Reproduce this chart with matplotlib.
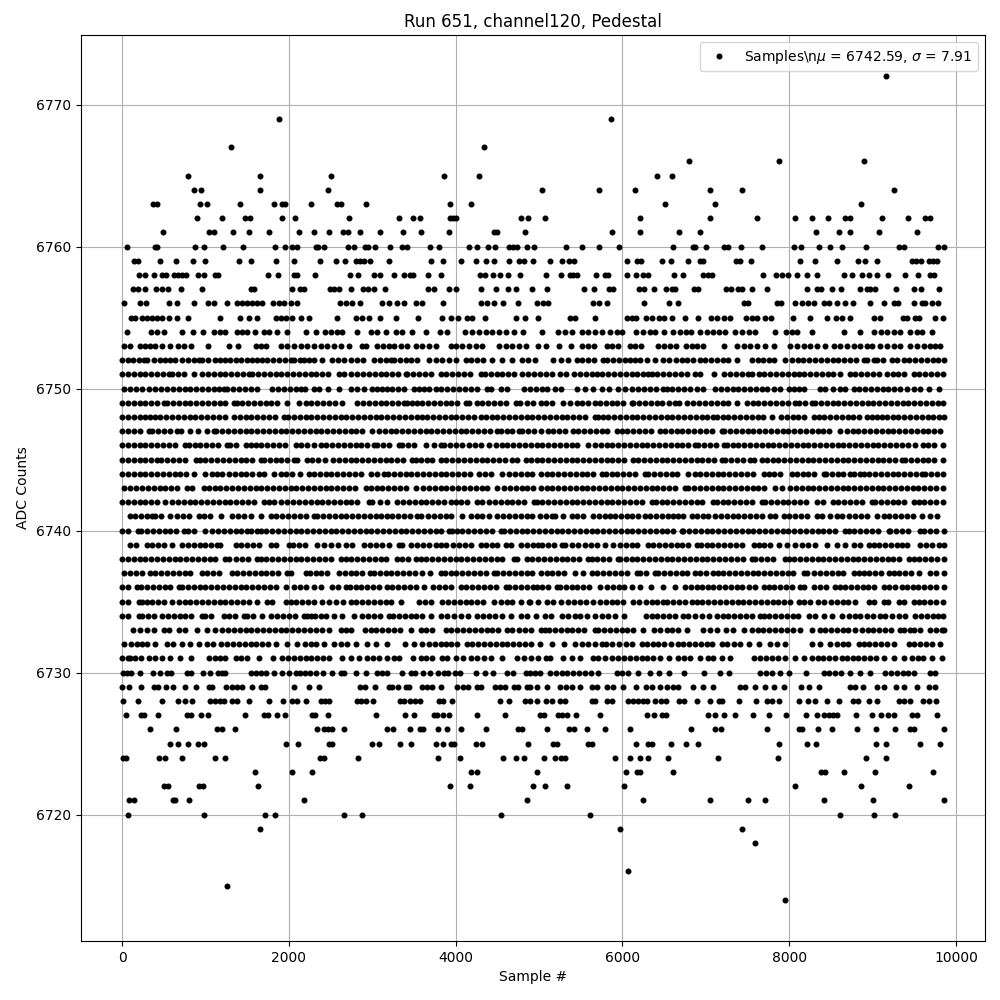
import matplotlib
matplotlib.use("Agg")
import matplotlib.pyplot as plt
import numpy as np

# sample numbers, one list per ADC count
s6772 = [9156]
s6769 = [1880, 5868]
s6767 = [1304, 4340]
s6766 = [6804, 7872, 8892]
s6765 = [788, 1652, 2504, 3860, 4280, 6420, 6600]
s6764 = [860, 944, 1652, 2468, 5040, 5724, 6156, 7056, 7428, 9252]
s6763 = [368, 416, 932, 1016, 1412, 1820, 1916, 1952, 2264, 2576, 2624, 2924, 3932, 4184, 6516, 7104, 8856]
s6762 = [896, 1196, 1472, 1532, 1916, 2072, 2720, 3320, 3488, 3572, 3932, 3968, 4000, 4784, 4868, 5076, 6216, 7056, 7608, 8064, 8268, 8460, 8664, 8724, 9108, 9420, 9624, 9684]
s6761 = [488, 1040, 1100, 1328, 1520, 1760, 2120, 2300, 2480, 2648, 2708, 2852, 3092, 3368, 3584, 3920, 4460, 4496, 4832, 5880, 6216, 6684, 6936, 8316, 8592, 8724, 9072, 9528]
s6760 = [56, 392, 416, 872, 980, 1208, 1448, 1832, 1952, 2036, 2096, 2324, 2348, 2420, 2708, 2780, 2912, 2948, 3032, 3212, 3356, 3416, 3692, 3800, 4160, 4256, 4388, 4472, 4640, 4688, 4736, 4856, 4944, 5328, 5520, 5724, 5964, 6612, 6852, 6876, 7008, 7212, 7260, 7416, 7668, 8052, 8136, 8352, 8484, 8628, 8916, 9312, 9372, 9780, 9852]
s6759 = [140, 188, 452, 644, 848, 992, 1400, 1544, 1844, 2060, 2372, 2564, 2672, 2804, 2852, 2900, 2972, 3200, 3704, 3848, 4064, 4244, 4364, 4460, 4640, 4760, 4820, 4932, 5136, 5280, 5364, 5424, 6060, 6180, 6228, 6480, 6588, 6792, 6936, 6972, 7356, 7404, 7536, 8124, 8304, 8568, 8820, 8904, 9048, 9468, 9516, 9576, 9672, 9720, 9768]
s6758 = [200, 272, 380, 476, 524, 620, 668, 716, 764, 908, 980, 1112, 1148, 1748, 1868, 2060, 2096, 2312, 2732, 2828, 3020, 3092, 3260, 3380, 3452, 3488, 3668, 3824, 4292, 4352, 4448, 4532, 4628, 4772, 5088, 5268, 5376, 5412, 5460, 5688, 5796, 5832, 6060, 6168, 6252, 6312, 6624, 6732, 6972, 7032, 7080, 7680, 7836, 7908, 7980, 8088, 8208, 8328, 8652, 8748, 8868, 8952, 9048, 9180, 9384, 9540, 9684, 9732]
s6757 = [128, 188, 272, 404, 476, 548, 704, 956, 1544, 1580, 2036, 2132, 2180, 2492, 2540, 2600, 2744, 2888, 2948, 3020, 3152, 3668, 3740, 3920, 4004, 4304, 4484, 4628, 4724, 4920, 5100, 5544, 5664, 5844, 5892, 6204, 6264, 6384, 6528, 6600, 6636, 6864, 6912, 7236, 7296, 7380, 7428, 7548, 7728, 8208, 8328, 8376, 8508, 8616, 8844, 8928, 8964, 9024, 9276, 9492, 9576, 9792]
s6756 = [20, 220, 288, 560, 660, 860, 1028, 1100, 1260, 1380, 1440, 1500, 1560, 1620, 1680, 1812, 1880, 1940, 2020, 2092, 2612, 2680, 2760, 2852, 3120, 3200, 3300, 3380, 3520, 3600, 3848, 4300, 4380, 4460, 4572, 4748, 4972, 5044, 5112, 5644, 5724, 5820, 6264, 6560, 6664, 7452, 7500, 7852, 7900, 8064, 8156, 8220, 8292, 8412, 8472, 8572, 8672, 8764, 8972, 9132, 9252, 9300, 9492, 9592, 9632, 9712, 9780]
s6755 = [108, 160, 240, 300, 360, 420, 480, 560, 660, 788, 1172, 1412, 1520, 1620, 1840, 1900, 1960, 2040, 2140, 2244, 2580, 2800, 2880, 2960, 3092, 3280, 3548, 3840, 3940, 4028, 4140, 4200, 4348, 4720, 4832, 4992, 5372, 5432, 5676, 6052, 6112, 6164, 6284, 6352, 6444, 6500, 6592, 6752, 6912, 7060, 7132, 7212, 7284, 7484, 7552, 7612, 7712, 7780, 8044, 8244, 8452, 8564, 8632, 8724, 9020, 9092, 9364, 9412, 9512, 9552, 9752, 9844]
s6754 = [60, 348, 420, 500, 720, 848, 968, 1100, 1172, 1240, 1372, 1440, 1500, 1592, 1700, 1760, 1860, 1972, 2200, 2320, 2428, 2500, 2580, 2640, 2812, 2980, 3060, 3160, 3280, 3360, 3472, 3640, 3812, 3900, 4108, 4200, 4280, 4360, 4440, 4520, 4600, 4700, 4804, 5032, 5232, 5312, 5392, 5512, 5592, 5672, 5752, 5852, 5932, 6000, 6160, 6252, 6332, 6392, 6500, 6604, 6692, 6760, 6820, 6932, 7012, 7092, 7152, 7224, 7352, 7432, 7512, 7592, 7824, 7960, 8032, 8092, 8272, 8652, 8844, 9020, 9100, 9172, 9252, 9332, 9444, 9532, 9592, 9708]
s6753 = [28, 100, 212, 280, 340, 400, 480, 580, 668, 740, 828, 1032, 1280, 1388, 1600, 1660, 1720, 1900, 1980, 2060, 2140, 2220, 2300, 2380, 2460, 2540, 2620, 2720, 2872, 2920, 3060, 3132, 3200, 3260, 3340, 3420, 3520, 3600, 3680, 3760, 3940, 4000, 4080, 4160, 4240, 4320, 4520, 4600, 4680, 4760, 4840, 4992, 5084, 5244, 5384, 5512, 5592, 5660, 5812, 5872, 5952, 6092, 6152, 6220, 6432, 6500, 6572, 6640, 6764, 6832, 6892, 6972, 7212, 7372, 7460, 7532, 7612, 7712, 7812, 8012, 8092, 8172, 8252, 8332, 8432, 8532, 8612, 8692, 8772, 8852, 8932, 8992, 9092, 9172, 9252, 9332, 9452, 9532, 9612, 9692, 9752, 9812]
s6752 = [0, 70, 130, 200, 260, 300, 380, 450, 520, 580, 640, 720, 790, 860, 920, 960, 1030, 1120, 1180, 1240, 1300, 1360, 1430, 1500, 1560, 1620, 1680, 1740, 1810, 1880, 1950, 2020, 2060, 2130, 2180, 2240, 2300, 2400, 2520, 2590, 2660, 2740, 2820, 2892, 3020, 3090, 3160, 3220, 3260, 3330, 3400, 3470, 3540, 3680, 3760, 3840, 3920, 4008, 4120, 4190, 4260, 4330, 4440, 4560, 4680, 4792, 4870, 4952, 5172, 5260, 5352, 5452, 5520, 5590, 5660, 5772, 5820, 5890, 5960, 6030, 6090, 6152, 6212, 6292, 6392, 6492, 6560, 6640, 6712, 6772, 6850, 6932, 6992, 7060, 7130, 7200, 7270, 7372, 7552, 7620, 7690, 7760, 7812, 7944, 8032, 8100, 8170, 8240, 8310, 8380, 8450, 8520, 8590, 8660, 8730, 8800, 8892, 8932, 9012, 9052, 9120, 9232, 9292, 9372, 9440, 9510, 9580, 9650, 9720, 9790, 9852]
s6751 = [0, 70, 140, 210, 280, 350, 420, 490, 560, 600, 670, 740, 860, 960, 1030, 1100, 1170, 1240, 1310, 1380, 1450, 1520, 1560, 1630, 1700, 1770, 1840, 1910, 1980, 2050, 2120, 2190, 2260, 2330, 2400, 2470, 2600, 2660, 2740, 2820, 2890, 2960, 3030, 3100, 3170, 3240, 3310, 3400, 3420, 3490, 3560, 3630, 3700, 3820, 3880, 3960, 4030, 4100, 4170, 4300, 4348, 4420, 4490, 4560, 4630, 4700, 4800, 4872, 4940, 5010, 5080, 5150, 5252, 5320, 5420, 5490, 5560, 5632, 5692, 5760, 5830, 5900, 5970, 6040, 6110, 6180, 6250, 6312, 6352, 6420, 6490, 6560, 6630, 6700, 6770, 6872, 6932, 7100, 7212, 7292, 7360, 7430, 7500, 7552, 7632, 7700, 7770, 7840, 7910, 7980, 8052, 8112, 8180, 8250, 8320, 8390, 8460, 8530, 8612, 8724, 8792, 8860, 8930, 9000, 9072, 9172, 9240, 9310, 9372, 9492, 9560, 9630, 9700, 9770, 9850]
s6750 = [28, 100, 170, 240, 320, 400, 468, 540, 610, 680, 750, 820, 890, 960, 1030, 1100, 1160, 1220, 1260, 1330, 1400, 1470, 1540, 1620, 1800, 1870, 1940, 2010, 2080, 2140, 2188, 2300, 2360, 2468, 2600, 2740, 2820, 2900, 3000, 3060, 3120, 3180, 3240, 3310, 3380, 3500, 3560, 3620, 3680, 3760, 3830, 3900, 3970, 4040, 4110, 4180, 4260, 4380, 4420, 4540, 4620, 4820, 4892, 4960, 5030, 5100, 5192, 5260, 5460, 5552, 5644, 5752, 5844, 5952, 6030, 6112, 6192, 6260, 6330, 6400, 6492, 6532, 6600, 6670, 6740, 6810, 6892, 6964, 7112, 7180, 7250, 7320, 7390, 7460, 7530, 7600, 7670, 7732, 7812, 7892, 7992, 8060, 8120, 8172, 8372, 8432, 8524, 8612, 8672, 8772, 8840, 8910, 8980, 9050, 9120, 9190, 9252, 9332, 9410, 9492, 9572, 9672, 9792]
s6749 = [0, 70, 140, 210, 280, 350, 420, 500, 540, 610, 680, 750, 820, 890, 960, 1030, 1100, 1170, 1240, 1340, 1380, 1440, 1510, 1580, 1650, 1720, 1790, 1860, 1980, 2120, 2200, 2270, 2340, 2410, 2480, 2550, 2640, 2820, 2890, 2960, 3030, 3100, 3170, 3240, 3310, 3380, 3420, 3480, 3532, 3600, 3670, 3740, 3810, 3880, 3950, 4020, 4120, 4160, 4260, 4320, 4390, 4460, 4530, 4600, 4720, 4768, 4860, 4930, 5020, 5080, 5152, 5292, 5370, 5452, 5512, 5590, 5672, 5732, 5800, 5870, 5940, 6010, 6112, 6132, 6200, 6270, 6340, 6410, 6480, 6560, 6632, 6684, 6772, 6852, 6920, 6990, 7060, 7130, 7200, 7270, 7372, 7492, 7560, 7630, 7700, 7770, 7840, 7910, 7980, 8072, 8112, 8190, 8272, 8312, 8380, 8450, 8520, 8590, 8660, 8730, 8800, 8870, 8940, 9010, 9080, 9150, 9220, 9290, 9360, 9430, 9500, 9570, 9640, 9710, 9780, 9850]
s6748 = [0, 70, 140, 210, 280, 340, 400, 460, 530, 600, 670, 740, 810, 880, 950, 1020, 1090, 1160, 1230, 1340, 1412, 1480, 1550, 1620, 1690, 1760, 1830, 1940, 1988, 2060, 2130, 2200, 2270, 2340, 2410, 2480, 2550, 2620, 2690, 2760, 2830, 2900, 2970, 3040, 3110, 3180, 3250, 3320, 3390, 3460, 3540, 3600, 3660, 3730, 3800, 3870, 3940, 4010, 4080, 4150, 4220, 4300, 4360, 4430, 4500, 4570, 4640, 4710, 4780, 4850, 4920, 4990, 5060, 5130, 5200, 5270, 5340, 5410, 5480, 5550, 5672, 5704, 5764, 5830, 5900, 5970, 6040, 6110, 6180, 6250, 6320, 6390, 6460, 6530, 6600, 6670, 6740, 6810, 6880, 6950, 7020, 7092, 7132, 7200, 7270, 7340, 7410, 7480, 7550, 7620, 7690, 7792, 7900, 7970, 8040, 8110, 8180, 8292, 8352, 8420, 8490, 8560, 8630, 8700, 8770, 8840, 8932, 8992, 9052, 9112, 9172, 9240, 9310, 9380, 9450, 9520, 9590, 9660, 9730, 9800, 9855]
s6747 = [0, 70, 140, 210, 320, 360, 430, 500, 570, 660, 708, 812, 912, 1020, 1100, 1132, 1200, 1270, 1340, 1410, 1480, 1550, 1620, 1690, 1760, 1830, 1900, 1970, 2040, 2110, 2180, 2250, 2320, 2390, 2460, 2530, 2600, 2670, 2740, 2810, 2880, 3000, 3080, 3150, 3220, 3290, 3360, 3430, 3500, 3570, 3640, 3710, 3780, 3850, 3920, 3990, 4060, 4130, 4200, 4270, 4340, 4410, 4500, 4540, 4610, 4680, 4760, 4800, 4870, 4940, 5020, 5112, 5172, 5240, 5310, 5412, 5472, 5540, 5610, 5680, 5750, 5820, 5932, 5992, 6060, 6130, 6200, 6270, 6340, 6452, 6512, 6580, 6650, 6720, 6790, 6860, 6930, 7000, 7070, 7192, 7220, 7290, 7360, 7430, 7500, 7570, 7640, 7710, 7780, 7850, 7920, 7990, 8060, 8130, 8200, 8270, 8340, 8410, 8480, 8612, 8692, 8760, 8830, 8900, 8970, 9040, 9110, 9180, 9250, 9320, 9390, 9460, 9530, 9600, 9670, 9740, 9812]
s6746 = [0, 70, 140, 210, 280, 350, 420, 490, 560, 630, 760, 800, 870, 940, 1010, 1080, 1150, 1260, 1300, 1370, 1480, 1540, 1600, 1670, 1740, 1810, 1880, 1950, 2080, 2140, 2220, 2300, 2380, 2450, 2520, 2590, 2660, 2730, 2800, 2870, 2940, 3020, 3060, 3130, 3200, 3320, 3360, 3430, 3500, 3640, 3740, 3820, 3860, 3930, 4000, 4080, 4160, 4230, 4300, 4400, 4480, 4550, 4620, 4690, 4760, 4830, 4900, 4970, 5040, 5110, 5180, 5250, 5320, 5390, 5460, 5592, 5672, 5740, 5810, 5880, 5950, 6020, 6090, 6160, 6230, 6300, 6370, 6440, 6510, 6580, 6650, 6720, 6790, 6872, 6912, 6980, 7050, 7120, 7212, 7252, 7320, 7390, 7460, 7530, 7600, 7670, 7740, 7810, 7880, 7950, 8020, 8090, 8160, 8230, 8300, 8370, 8440, 8510, 8580, 8650, 8720, 8790, 8860, 8930, 9000, 9070, 9140, 9210, 9280, 9350, 9420, 9512, 9604, 9670, 9740, 9844]
s6745 = [0, 70, 140, 210, 280, 350, 420, 468, 540, 610, 680, 750, 892, 932, 1000, 1070, 1140, 1210, 1280, 1350, 1420, 1490, 1560, 1660, 1700, 1770, 1840, 1910, 1980, 2060, 2092, 2220, 2280, 2350, 2428, 2532, 2600, 2670, 2740, 2810, 2880, 2950, 3020, 3090, 3160, 3230, 3300, 3370, 3480, 3520, 3590, 3660, 3720, 3820, 3890, 3960, 4030, 4100, 4170, 4240, 4310, 4380, 4450, 4520, 4590, 4680, 4740, 4840, 4900, 4970, 5040, 5110, 5180, 5250, 5320, 5390, 5460, 5530, 5600, 5670, 5740, 5810, 5880, 5950, 6020, 6132, 6192, 6260, 6330, 6400, 6470, 6540, 6610, 6680, 6750, 6820, 6890, 6960, 7030, 7100, 7192, 7232, 7300, 7370, 7440, 7532, 7572, 7672, 7732, 7800, 7870, 7940, 8010, 8080, 8150, 8220, 8290, 8360, 8430, 8500, 8570, 8640, 8710, 8780, 8850, 8920, 8990, 9060, 9130, 9200, 9270, 9352, 9392, 9460, 9530, 9600, 9670, 9740, 9844]
s6744 = [0, 70, 140, 210, 280, 350, 420, 490, 560, 630, 700, 770, 860, 992, 1080, 1140, 1200, 1280, 1350, 1420, 1490, 1560, 1640, 1700, 1820, 1900, 1960, 2040, 2132, 2240, 2300, 2370, 2440, 2510, 2580, 2650, 2720, 2790, 2860, 2980, 3060, 3140, 3188, 3260, 3330, 3400, 3470, 3540, 3610, 3680, 3750, 3820, 3890, 3960, 4030, 4100, 4170, 4280, 4350, 4420, 4560, 4640, 4710, 4780, 4850, 4920, 5020, 5090, 5160, 5230, 5300, 5370, 5440, 5510, 5580, 5650, 5752, 5800, 5872, 5940, 6010, 6080, 6150, 6272, 6312, 6380, 6450, 6520, 6590, 6660, 6792, 6872, 6932, 7000, 7070, 7140, 7210, 7280, 7350, 7420, 7490, 7560, 7692, 7752, 7820, 7890, 8032, 8092, 8160, 8230, 8300, 8412, 8444, 8510, 8580, 8650, 8732, 8772, 8852, 8892, 8960, 9030, 9100, 9170, 9240, 9310, 9380, 9450, 9520, 9592, 9632, 9700, 9772, 9844]
s6743 = [28, 100, 170, 240, 310, 380, 450, 520, 590, 660, 780, 840, 980, 1040, 1110, 1180, 1250, 1320, 1390, 1460, 1530, 1600, 1670, 1740, 1810, 1880, 1950, 2020, 2090, 2160, 2230, 2300, 2370, 2440, 2510, 2580, 2650, 2720, 2790, 2920, 2980, 3060, 3120, 3190, 3260, 3330, 3400, 3520, 3612, 3680, 3750, 3820, 3890, 3960, 4030, 4100, 4170, 4240, 4310, 4380, 4500, 4580, 4650, 4720, 4790, 4860, 4930, 5020, 5090, 5160, 5230, 5300, 5370, 5440, 5510, 5580, 5650, 5720, 5790, 5860, 5930, 6000, 6070, 6140, 6210, 6280, 6350, 6420, 6490, 6560, 6630, 6752, 6792, 6860, 6930, 7000, 7070, 7140, 7210, 7280, 7350, 7420, 7490, 7560, 7630, 7700, 7832, 7912, 8012, 8084, 8152, 8220, 8290, 8360, 8430, 8500, 8570, 8640, 8710, 8780, 8850, 8920, 8990, 9060, 9130, 9200, 9270, 9340, 9410, 9480, 9550, 9620, 9690, 9760, 9850]
s6742 = [0, 70, 140, 210, 280, 350, 420, 520, 600, 670, 740, 810, 880, 950, 1020, 1090, 1160, 1230, 1300, 1370, 1440, 1510, 1580, 1700, 1760, 1820, 1908, 1980, 2050, 2120, 2190, 2260, 2340, 2400, 2470, 2540, 2610, 2680, 2750, 2820, 2960, 3000, 3090, 3180, 3300, 3370, 3440, 3510, 3580, 3650, 3720, 3790, 3860, 3940, 4000, 4070, 4140, 4260, 4320, 4400, 4470, 4540, 4610, 4680, 4750, 4820, 4940, 4972, 5040, 5110, 5180, 5250, 5320, 5390, 5460, 5530, 5600, 5670, 5740, 5810, 5880, 5950, 6020, 6090, 6160, 6230, 6352, 6404, 6470, 6540, 6610, 6680, 6750, 6820, 6890, 6960, 7092, 7132, 7200, 7270, 7340, 7410, 7480, 7550, 7672, 7712, 7780, 7850, 7920, 7990, 8060, 8130, 8200, 8332, 8400, 8524, 8590, 8660, 8730, 8800, 8870, 8992, 9032, 9100, 9170, 9240, 9310, 9380, 9492, 9552, 9620, 9690, 9760, 9850]
s6741 = [92, 160, 230, 300, 360, 400, 470, 572, 660, 730, 800, 920, 988, 1052, 1188, 1320, 1390, 1460, 1548, 1668, 1780, 1850, 1920, 1990, 2060, 2130, 2200, 2300, 2340, 2410, 2480, 2550, 2620, 2690, 2760, 2830, 2900, 2970, 3040, 3110, 3180, 3240, 3310, 3380, 3450, 3540, 3588, 3668, 3740, 3810, 3880, 3950, 4080, 4180, 4250, 4320, 4400, 4500, 4570, 4640, 4710, 4780, 4850, 4920, 5010, 5084, 5152, 5192, 5292, 5392, 5460, 5524, 5652, 5720, 5790, 5852, 5912, 5980, 6050, 6120, 6190, 6272, 6332, 6400, 6470, 6552, 6612, 6670, 6732, 6832, 6900, 6970, 7032, 7112, 7180, 7250, 7320, 7390, 7460, 7530, 7600, 7670, 7772, 7832, 7932, 8000, 8070, 8140, 8210, 8332, 8392, 8492, 8572, 8632, 8712, 8792, 8860, 8930, 9052, 9132, 9192, 9272, 9340, 9410, 9480, 9592, 9692, 9772]
s6740 = [0, 70, 188, 228, 300, 370, 440, 510, 580, 650, 740, 788, 860, 1000, 1080, 1150, 1220, 1290, 1360, 1430, 1500, 1548, 1620, 1660, 1730, 1800, 1870, 1940, 2010, 2080, 2150, 2220, 2290, 2360, 2430, 2500, 2570, 2640, 2710, 2780, 2850, 2920, 2990, 3060, 3130, 3200, 3270, 3340, 3410, 3480, 3550, 3620, 3690, 3760, 3830, 3920, 3960, 4012, 4080, 4150, 4220, 4290, 4360, 4430, 4540, 4580, 4650, 4720, 4790, 4860, 4930, 5000, 5070, 5140, 5210, 5280, 5350, 5420, 5490, 5560, 5630, 5700, 5770, 5840, 5910, 5980, 6050, 6120, 6190, 6260, 6330, 6400, 6470, 6540, 6610, 6712, 6732, 6800, 6870, 6940, 7010, 7080, 7150, 7220, 7290, 7360, 7430, 7500, 7570, 7640, 7710, 7780, 7850, 7920, 7990, 8060, 8130, 8200, 8270, 8340, 8410, 8480, 8550, 8672, 8712, 8780, 8850, 8920, 8990, 9060, 9192, 9212, 9280, 9350, 9420, 9572, 9620, 9690, 9760, 9855]
s6739 = [92, 172, 300, 360, 428, 500, 600, 720, 790, 860, 930, 1000, 1070, 1140, 1180, 1360, 1430, 1500, 1570, 1640, 1780, 1848, 2000, 2052, 2120, 2188, 2340, 2420, 2500, 2588, 2680, 2760, 2900, 2970, 3040, 3120, 3200, 3320, 3360, 3468, 3540, 3610, 3680, 3760, 3820, 3880, 3972, 4040, 4110, 4180, 4300, 4360, 4430, 4500, 4600, 4668, 4788, 4860, 4930, 4992, 5032, 5112, 5180, 5272, 5312, 5390, 5472, 5552, 5620, 5692, 5792, 5892, 5972, 6040, 6110, 6180, 6312, 6372, 6444, 6510, 6580, 6650, 6720, 6790, 6892, 6940, 7010, 7080, 7150, 7220, 7290, 7360, 7430, 7572, 7632, 7700, 7770, 7872, 7972, 8064, 8152, 8220, 8312, 8452, 8572, 8672, 8772, 8852, 8952, 9012, 9080, 9150, 9220, 9292, 9352, 9412, 9572, 9640, 9710, 9792, 9852]
s6738 = [0, 70, 140, 210, 280, 350, 420, 490, 560, 630, 700, 770, 840, 910, 980, 1050, 1120, 1240, 1280, 1360, 1440, 1510, 1620, 1660, 1730, 1800, 1870, 1940, 2010, 2080, 2150, 2220, 2290, 2360, 2430, 2500, 2620, 2680, 2750, 2820, 2890, 2960, 3030, 3100, 3170, 3300, 3360, 3430, 3520, 3580, 3650, 3720, 3790, 3860, 3930, 4000, 4070, 4140, 4210, 4280, 4350, 4420, 4490, 4560, 4700, 4740, 4860, 4920, 4990, 5060, 5130, 5200, 5270, 5340, 5410, 5480, 5592, 5632, 5700, 5770, 5840, 5952, 5972, 6040, 6110, 6180, 6250, 6320, 6390, 6460, 6530, 6600, 6670, 6740, 6810, 6880, 6950, 7020, 7090, 7160, 7230, 7300, 7370, 7440, 7552, 7592, 7660, 7730, 7800, 7952, 7992, 8060, 8130, 8200, 8270, 8340, 8410, 8480, 8550, 8620, 8690, 8760, 8830, 8900, 8970, 9040, 9110, 9180, 9250, 9320, 9432, 9492, 9560, 9630, 9700, 9770, 9855]
s6737 = [20, 100, 170, 240, 332, 400, 470, 540, 610, 680, 750, 820, 960, 1020, 1090, 1160, 1320, 1380, 1450, 1520, 1590, 1660, 1730, 1800, 1870, 1980, 2020, 2200, 2252, 2320, 2390, 2460, 2600, 2668, 2740, 2810, 2880, 2972, 3020, 3090, 3160, 3230, 3300, 3370, 3440, 3510, 3600, 3692, 3820, 3868, 3940, 4010, 4080, 4150, 4220, 4290, 4360, 4460, 4500, 4570, 4640, 4710, 4780, 4850, 4920, 5020, 5090, 5160, 5230, 5300, 5432, 5532, 5632, 5700, 5770, 5840, 5910, 5980, 6050, 6172, 6212, 6280, 6392, 6432, 6500, 6570, 6640, 6710, 6780, 6872, 6932, 7000, 7092, 7140, 7210, 7280, 7350, 7420, 7490, 7560, 7630, 7700, 7770, 7840, 7910, 7980, 8050, 8172, 8212, 8292, 8372, 8440, 8510, 8580, 8650, 8772, 8832, 8892, 8960, 9030, 9100, 9192, 9252, 9320, 9390, 9460, 9552, 9684, 9760, 9852]
s6736 = [0, 70, 180, 228, 300, 370, 440, 510, 580, 680, 720, 790, 860, 930, 1000, 1070, 1140, 1212, 1280, 1350, 1420, 1490, 1560, 1630, 1700, 1770, 1840, 1960, 2060, 2130, 2200, 2300, 2380, 2520, 2590, 2680, 2732, 2800, 2870, 2940, 3010, 3080, 3172, 3240, 3310, 3380, 3450, 3520, 3620, 3732, 3800, 3870, 3940, 4060, 4128, 4200, 4270, 4340, 4410, 4480, 4600, 4640, 4710, 4780, 4850, 4932, 4972, 5040, 5110, 5212, 5252, 5320, 5390, 5460, 5530, 5600, 5732, 5820, 5890, 5960, 6020, 6112, 6212, 6340, 6484, 6632, 6752, 6820, 6890, 6960, 7032, 7092, 7160, 7230, 7300, 7372, 7432, 7512, 7592, 7692, 7752, 7820, 7890, 7960, 8030, 8132, 8172, 8292, 8372, 8440, 8552, 8604, 8670, 8740, 8810, 8880, 8950, 9020, 9132, 9192, 9270, 9352, 9412, 9480, 9550, 9620, 9690, 9760, 9855]
s6735 = [0, 70, 200, 240, 300, 360, 430, 500, 600, 680, 750, 820, 890, 960, 1030, 1100, 1170, 1240, 1310, 1380, 1450, 1520, 1620, 1740, 1800, 1960, 2020, 2090, 2160, 2230, 2300, 2400, 2480, 2560, 2652, 2740, 2810, 2880, 2950, 3020, 3090, 3160, 3230, 3340, 3560, 3630, 3700, 3840, 3910, 3980, 4050, 4120, 4190, 4260, 4330, 4460, 4540, 4610, 4680, 4780, 4880, 4892, 4992, 5092, 5164, 5260, 5352, 5420, 5490, 5560, 5652, 5732, 5800, 5870, 5940, 6012, 6132, 6204, 6284, 6350, 6420, 6492, 6540, 6610, 6680, 6750, 6832, 6892, 6960, 7030, 7100, 7170, 7240, 7310, 7380, 7450, 7520, 7590, 7660, 7730, 7800, 7870, 7940, 8010, 8112, 8172, 8252, 8340, 8412, 8500, 8570, 8640, 8710, 8792, 8952, 9020, 9132, 9184, 9312, 9380, 9492, 9552, 9620, 9690, 9760, 9850]
s6734 = [0, 70, 200, 240, 310, 380, 480, 550, 620, 690, 760, 830, 960, 1000, 1070, 1220, 1280, 1350, 1460, 1500, 1570, 1680, 1788, 1860, 1930, 2000, 2070, 2180, 2220, 2260, 2308, 2380, 2450, 2540, 2640, 2780, 2880, 2948, 3020, 3090, 3200, 3252, 3320, 3390, 3460, 3530, 3600, 3700, 3820, 3900, 3980, 4060, 4148, 4260, 4330, 4400, 4470, 4560, 4660, 4788, 4860, 4960, 5072, 5140, 5272, 5352, 5432, 5492, 5570, 5672, 5752, 5830, 5912, 6020, 6284, 6350, 6420, 6490, 6560, 6630, 6732, 6792, 6870, 6952, 7044, 7132, 7200, 7270, 7340, 7410, 7480, 7550, 7652, 7692, 7752, 7832, 7900, 7970, 8040, 8110, 8232, 8312, 8412, 8512, 8632, 8712, 8792, 8852, 8932, 9000, 9092, 9152, 9230, 9312, 9392, 9512, 9580, 9650, 9720, 9790, 9850]
s6733 = [128, 220, 300, 380, 500, 560, 680, 760, 900, 1020, 1120, 1200, 1270, 1340, 1410, 1480, 1550, 1620, 1690, 1760, 1830, 1900, 1970, 2040, 2110, 2180, 2250, 2320, 2400, 2480, 2620, 2680, 2740, 2912, 2980, 3050, 3120, 3190, 3260, 3330, 3460, 3580, 3650, 3720, 3880, 3950, 4020, 4090, 4160, 4230, 4300, 4370, 4440, 4510, 4620, 4680, 4760, 4830, 4900, 5020, 5072, 5124, 5192, 5260, 5330, 5400, 5470, 5540, 5672, 5712, 5780, 5850, 5920, 5990, 6060, 6130, 6252, 6384, 6452, 6532, 6600, 6670, 6772, 6972, 7050, 7132, 7244, 7320, 7452, 7552, 7620, 7690, 7760, 7830, 7900, 7970, 8040, 8132, 8272, 8372, 8432, 8500, 8570, 8640, 8710, 8792, 8872, 8940, 9010, 9080, 9150, 9220, 9332, 9372, 9452, 9492, 9572, 9692, 9760, 9830, 9855]
s6732 = [20, 108, 180, 240, 300, 392, 540, 610, 720, 812, 920, 1020, 1092, 1188, 1260, 1330, 1400, 1470, 1540, 1610, 1680, 1750, 1840, 1980, 2100, 2188, 2260, 2330, 2420, 2540, 2620, 2700, 2800, 2940, 3040, 3180, 3388, 3500, 3600, 3680, 3750, 3820, 3880, 3950, 4020, 4140, 4200, 4270, 4340, 4410, 4480, 4550, 4620, 4690, 4760, 4830, 4900, 5012, 5160, 5304, 5432, 5510, 5590, 5670, 5752, 5804, 5880, 5960, 6040, 6112, 6232, 6300, 6372, 6432, 6500, 6580, 6672, 6732, 6800, 6870, 6940, 7010, 7080, 7192, 7252, 7332, 7412, 7512, 7632, 7764, 7852, 7952, 8272, 8372, 8492, 8572, 8640, 8710, 8832, 8892, 8960, 9030, 9100, 9170, 9252, 9432, 9500, 9570, 9640, 9710, 9812]
s6731 = [0, 68, 100, 160, 230, 320, 400, 480, 572, 692, 824, 1040, 1110, 1180, 1240, 1360, 1430, 1500, 1640, 1808, 1920, 1990, 2060, 2130, 2200, 2270, 2340, 2410, 2480, 2640, 2740, 2840, 2940, 3010, 3080, 3180, 3260, 3320, 3488, 3580, 3650, 3720, 3840, 3900, 4000, 4090, 4180, 4260, 4340, 4420, 4560, 4740, 4820, 4900, 4992, 5084, 5132, 5284, 5392, 5492, 5652, 5712, 5792, 5872, 5952, 6020, 6090, 6160, 6230, 6300, 6370, 6452, 6564, 6672, 6740, 6810, 6932, 7032, 7092, 7192, 7292, 7580, 7650, 7720, 7790, 7860, 7952, 8064, 8172, 8272, 8340, 8410, 8480, 8550, 8632, 8692, 8760, 8830, 8900, 8970, 9040, 9132, 9252, 9372, 9472, 9540, 9610, 9712, 9832]
s6730 = [8, 56, 104, 212, 368, 452, 536, 584, 776, 824, 968, 1052, 1148, 1196, 1232, 1544, 1604, 1664, 1724, 1820, 1916, 2000, 2084, 2132, 2192, 2252, 2324, 2408, 2516, 2624, 2660, 2804, 2924, 3056, 3116, 3176, 3356, 3464, 3512, 3608, 3692, 3788, 3860, 3908, 3992, 4052, 4244, 4352, 4448, 4616, 4688, 4844, 4892, 4952, 5012, 5132, 5200, 5270, 5340, 5410, 5480, 5550, 5620, 5712, 5932, 6000, 6070, 6192, 6332, 6444, 6564, 6740, 6980, 7172, 7272, 7652, 7720, 7790, 7892, 8000, 8204, 8412, 8480, 8550, 8620, 8732, 8852, 8972, 9152, 9220, 9290, 9360, 9430, 9492, 9692, 9752]
s6729 = [0, 80, 224, 380, 428, 524, 608, 752, 884, 1040, 1076, 1244, 1316, 1376, 1436, 1556, 1664, 1712, 2060, 2240, 2360, 2852, 2912, 3032, 3200, 3236, 3308, 3404, 3440, 3596, 3656, 3716, 3824, 4016, 4088, 4148, 4256, 4304, 4472, 4532, 4592, 4700, 4748, 4856, 4892, 4972, 5100, 5252, 5320, 5400, 5492, 5632, 5692, 5812, 5884, 6012, 6164, 6284, 6360, 6452, 6532, 6604, 6664, 6852, 6972, 7084, 7404, 7472, 7592, 7712, 7812, 7932, 8144, 8232, 8352, 8732, 8792, 8880, 9052, 9132, 9276, 9372, 9532, 9680, 9752]
s6728 = [8, 188, 476, 668, 752, 836, 1052, 1112, 1172, 1220, 1316, 1376, 1520, 1760, 1928, 2036, 2096, 2204, 2384, 2432, 2480, 2816, 2864, 2924, 3008, 3332, 3380, 3452, 3512, 3572, 3800, 3848, 3956, 4532, 4640, 4832, 4892, 4972, 5084, 5152, 5252, 5312, 5632, 5672, 5820, 5872, 6072, 6132, 6192, 6252, 6300, 6392, 6460, 6520, 6684, 6740, 6892, 7052, 7152, 7192, 7392, 7604, 7732, 7792, 7872, 8112, 8220, 8304, 8452, 8592, 8764, 8820, 8952, 9052, 9312, 9380, 9444, 9600, 9672, 9764]
s6727 = [44, 224, 260, 428, 776, 824, 944, 1028, 1472, 1700, 1748, 1856, 1952, 2276, 2312, 2468, 3044, 3392, 3500, 3740, 3776, 3848, 3920, 4256, 4592, 5012, 5060, 5232, 5272, 5332, 5440, 5732, 6300, 6384, 6472, 6524, 7032, 7104, 7212, 7344, 7564, 7752, 7956, 8196, 8328, 8412, 8472, 8520, 8572, 8796, 8988, 9096, 9180, 9252, 9472, 9532, 9768]
s6726 = [332, 644, 1136, 1196, 1352, 2336, 2420, 2468, 2516, 2660, 3176, 3248, 3452, 3572, 3608, 3788, 3896, 4064, 4364, 4748, 4796, 5092, 5364, 5424, 5580, 5796, 6096, 6828, 7104, 7176, 7728, 8112, 8152, 8340, 8508, 8808, 9036, 9264, 9452, 9492, 9852]
s6725 = [572, 668, 788, 908, 980, 1964, 2108, 2480, 2516, 2996, 3080, 3332, 3464, 3764, 3848, 3944, 3980, 4244, 4316, 4868, 5172, 5212, 5592, 5632, 6168, 6312, 6360, 6588, 6768, 6912, 7872, 8208, 8316, 9036, 9156, 9564, 9804]
s6724 = [8, 44, 440, 512, 716, 1112, 1232, 2372, 2420, 2828, 3788, 4052, 4568, 4724, 4820, 5064, 5196, 5260, 5316, 5916, 6096, 6216, 6312, 6552, 7140, 7860, 8916, 9156]
s6723 = [1592, 2036, 2276, 4184, 4256, 4980, 6040, 6172, 6212, 6612, 8384, 8432, 8652, 9024, 9720]
s6722 = [500, 548, 920, 968, 1628, 3932, 4172, 4932, 5076, 5340, 6024, 8064, 8856, 9432]
s6721 = [80, 140, 608, 632, 800, 2180, 4856, 6252, 7056, 7500, 7704, 8412, 9000, 9852]
s6720 = [68, 980, 1712, 1832, 2660, 2876, 4544, 5616, 8604, 9012, 9264]
s6719 = [1652, 5976, 7428]
s6718 = [7584]
s6716 = [6072]
s6715 = [1256]
s6714 = [7944]

adc_levels = [6772, 6769, 6767, 6766, 6765, 6764, 6763, 6762, 6761, 6760, 6759, 6758, 6757, 6756, 6755, 6754,
              6753, 6752, 6751, 6750, 6749, 6748, 6747, 6746, 6745, 6744, 6743, 6742, 6741, 6740, 6739, 6738,
              6737, 6736, 6735, 6734, 6733, 6732, 6731, 6730, 6729, 6728, 6727, 6726, 6725, 6724, 6723, 6722,
              6721, 6720, 6719, 6718, 6716, 6715, 6714]
level_samples = [s6772, s6769, s6767, s6766, s6765, s6764, s6763, s6762, s6761, s6760, s6759, s6758, s6757, s6756,
                 s6755, s6754, s6753, s6752, s6751, s6750, s6749, s6748, s6747, s6746, s6745, s6744, s6743, s6742,
                 s6741, s6740, s6739, s6738, s6737, s6736, s6735, s6734, s6733, s6732, s6731, s6730, s6729, s6728,
                 s6727, s6726, s6725, s6724, s6723, s6722, s6721, s6720, s6719, s6718, s6716, s6715, s6714]

x = np.concatenate([np.array(s) for s in level_samples])
y = np.concatenate([np.full(len(s), lev) for s, lev in zip(level_samples, adc_levels)])

plt.figure(figsize=(10, 10), dpi=100)
plt.plot(x, y, "k.", markersize=6.6, label=r"Samples\n$\mu$ = 6742.59, $\sigma$ = 7.91")
plt.title("Run 651, channel120, Pedestal")
plt.xlabel("Sample #")
plt.ylabel("ADC Counts")
plt.grid(True)
plt.legend(loc="upper right")
plt.subplots_adjust(left=0.081, right=0.985, top=0.965, bottom=0.059)
plt.savefig("out.png")
